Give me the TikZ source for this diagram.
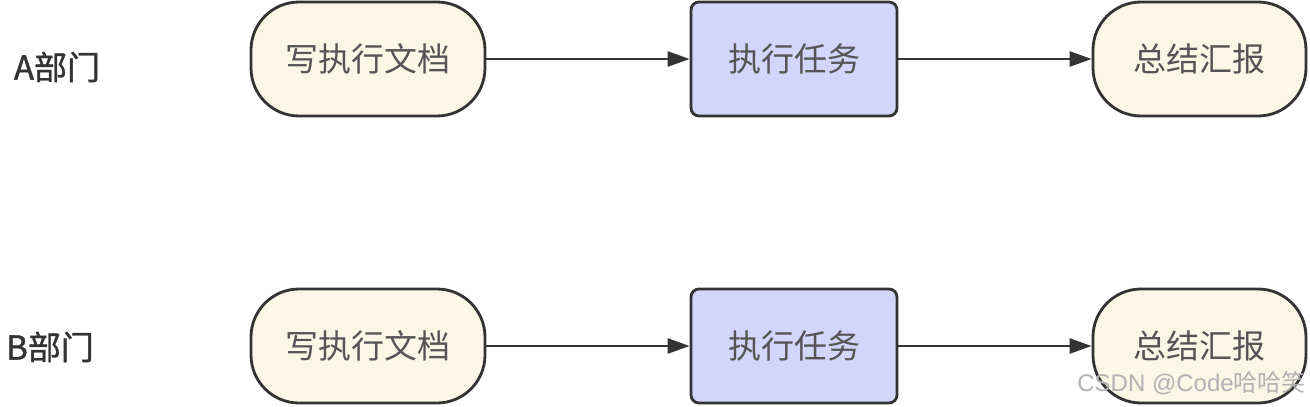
\documentclass[tikz,border=0pt]{standalone}
\usepackage{fontspec}
\newfontfamily\cjk{Noto Sans CJK SC}
\newfontfamily\cjkmed[FakeBold=1.2]{Noto Sans CJK SC}
\usetikzlibrary{arrows.meta}
\definecolor{cream}{RGB}{250,247,230}
\definecolor{lav}{RGB}{210,214,250}
\definecolor{edge}{RGB}{51,51,51}
\definecolor{txt}{RGB}{85,85,85}
\tikzset{
  term/.style={draw=edge, line width=2.8pt, fill=cream, rounded corners=48pt,
    minimum width=234pt, minimum height=114pt, inner sep=0pt,
    font=\cjk\fontsize{33}{38}\selectfont, text=txt},
  task/.style={draw=edge, line width=2.8pt, fill=lav, rounded corners=8pt,
    minimum width=206pt, minimum height=114pt, inner sep=0pt,
    font=\cjk\fontsize{33}{38}\selectfont, text=txt},
  dept/.style={font=\cjkmed\fontsize{33}{36}\selectfont, text=edge, inner sep=0pt},
  flow/.style={draw=edge, line width=2.6pt, -{Triangle[length=22pt,width=15pt]}}
}
\begin{document}
\begin{tikzpicture}[x=1pt,y=-1pt]
\useasboundingbox[fill=white] (0,0) rectangle (1310,407);
% row A
\node[dept] (la) at (57,67) {A部门};
\node[term] (a1) at (368,59) {写执行文档};
\node[task] (a2) at (794,59) {执行任务};
\node[term, minimum width=213pt] (a3) at (1199.5,59) {总结汇报};
\draw[flow] (a1) -- (a2);
\draw[flow] (a2) -- (a3);
% row B
\node[dept] (lb) at (50,347) {B部门};
\node[term] (b1) at (368,346) {写执行文档};
\node[task] (b2) at (794,346) {执行任务};
\node[term, minimum width=213pt] (b3) at (1199.5,346) {总结汇报};
\draw[flow] (b1) -- (b2);
\draw[flow] (b2) -- (b3);
% watermark
\node[font=\fontspec{Liberation Sans}\fontsize{24}{27}\selectfont, text=black!30, inner sep=0pt, anchor=east] (wm) at (1306,383) {CSDN @Code{\cjk 哈哈笑}};
\end{tikzpicture}
\end{document}
